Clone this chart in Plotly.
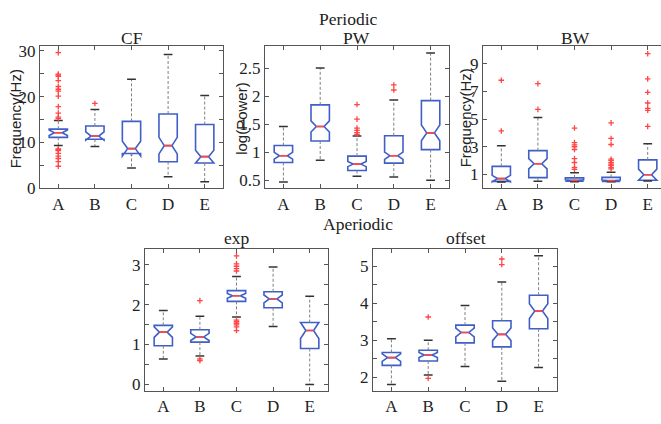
import plotly.graph_objects as go

W, H = 661, 424

cats = ["A", "B", "C", "D", "E"]
pos = [1, 2, 3, 4, 5]

# ---- Periodic: CF ----
cf_q1 = [11.1, 10.7, 7.6, 5.8, 5.5]
cf_med = [12.1, 11.4, 8.65, 9.3, 6.9]
cf_q3 = [12.9, 13.6, 14.6, 16.2, 13.9]
cf_lo = [9.35, 9.1, 4.4, 2.5, 1.4]
cf_hi = [14.8, 17.2, 23.8, 29.2, 20.25]
cf_notch = [0.6, 0.9, 1.6, 1.8, 1.4]
cf_out = [[29.6, 24.9, 24.7, 24.4, 23.5, 22.2, 21.6, 21.2, 20.1, 17.8, 16.4, 15.5, 15.2,
           8.6, 8.4, 8.2, 7.6, 7.0, 6.5, 5.8, 4.8],
          [18.5], [], [], []]

# ---- Periodic: PW ----
pw_q1 = [0.817, 1.20, 0.673, 0.805, 1.047]
pw_med = [0.938, 1.46, 0.788, 0.938, 1.345]
pw_q3 = [1.12, 1.845, 0.93, 1.295, 1.92]
pw_lo = [0.47, 0.857, 0.57, 0.56, 0.5]
pw_hi = [1.46, 2.5, 1.29, 1.93, 2.77]
pw_notch = [0.06, 0.1, 0.045, 0.065, 0.14]
pw_out = [[], [], [1.85, 1.59, 1.43, 1.39, 1.35, 1.32], [2.2, 2.11], []]

# ---- Periodic: BW ----
bw_q1 = [0.5, 0.77, 0.51, 0.49, 0.58]
bw_med = [0.70, 1.77, 0.56, 0.54, 0.98]
bw_q3 = [1.58, 2.72, 0.75, 0.79, 2.05]
bw_lo = [0.45, 0.51, 0.48, 0.47, 0.52]
bw_hi = [3.07, 5.12, 1.12, 1.15, 3.21]
bw_notch = [0.23, 0.37, 0.05, 0.05, 0.4]
bw_out = [[7.8, 4.14], [7.56, 5.70],
          [4.35, 3.3, 3.14, 3.0, 2.8, 2.14, 1.86, 1.5, 1.37],
          [4.72, 3.6, 3.16, 2.1, 2.0, 1.85, 1.75, 1.65, 1.5, 1.4],
          [9.72, 7.9, 6.93, 6.16, 5.77, 5.63, 4.47]]

# ---- Aperiodic: exp ----
ex_q1 = [0.97, 1.06, 2.08, 1.92, 0.9]
ex_med = [1.31, 1.19, 2.22, 2.14, 1.35]
ex_q3 = [1.48, 1.37, 2.35, 2.32, 1.55]
ex_lo = [0.64, 0.71, 1.69, 1.45, 0.0]
ex_hi = [1.85, 1.71, 2.70, 2.94, 2.21]
ex_notch = [0.13, 0.09, 0.06, 0.1, 0.2]
ex_out = [[], [2.1, 0.64, 0.6],
          [3.22, 3.02, 2.96, 2.9, 2.84, 1.61, 1.57, 1.53, 1.49, 1.44, 1.35], [], []]

# ---- Aperiodic: offset ----
of_q1 = [2.32, 2.44, 2.93, 2.82, 3.31]
of_med = [2.53, 2.6, 3.21, 3.16, 3.79]
of_q3 = [2.67, 2.73, 3.41, 3.53, 4.22]
of_lo = [1.80, 2.06, 2.29, 1.89, 2.26]
of_hi = [3.04, 3.0, 3.94, 4.58, 5.29]
of_notch = [0.1, 0.07, 0.12, 0.17, 0.2]
of_out = [[], [3.63, 1.97], [], [5.2, 5.05], []]

BLUE = "#3f5fc6"
RED = "#ff4545"
AX = "#555555"
SERIF = "'Liberation Serif', 'Times New Roman', serif"
SANS = "'Liberation Sans', Arial, sans-serif"

BOXW = 0.5
NOTCHW = 0.29
MED_HALF = BOXW / 2 * (1 - 2 * NOTCHW)
CAP_HALF = 0.12

panels = [
    dict(d=(cf_q1, cf_med, cf_q3, cf_lo, cf_hi, cf_notch, cf_out),
         xpx=(40, 223), ypx=(43, 190), yr=[0, 30.93], tv=[0, 10, 20, 30], minor=5,
         xr=[0.5, 5.5], mirror="ticks"),
    dict(d=(pw_q1, pw_med, pw_q3, pw_lo, pw_hi, pw_notch, pw_out),
         xpx=(265, 449), ypx=(43, 190), yr=[0.357, 2.886], tv=[0.5, 1, 1.5, 2, 2.5], minor=None,
         xr=[0.5, 5.5], mirror="ticks"),
    dict(d=(bw_q1, bw_med, bw_q3, bw_lo, bw_hi, bw_notch, bw_out),
         xpx=(483, 661), ypx=(43, 190), yr=[0.0, 10.24], tv=[1, 3, 5, 7, 9], minor=None,
         xr=[0.5, 0.5 + 178 / 36.6], mirror=False),
    dict(d=(ex_q1, ex_med, ex_q3, ex_lo, ex_hi, ex_notch, ex_out),
         xpx=(145, 328), ypx=(253, 400), yr=[-0.16, 3.39], tv=[0, 1, 2, 3], minor=0.5,
         xr=[0.5, 5.5], mirror="ticks"),
    dict(d=(of_q1, of_med, of_q3, of_lo, of_hi, of_notch, of_out),
         xpx=(373, 557), ypx=(253, 400), yr=[1.63, 5.47], tv=[2, 3, 4, 5], minor=0.5,
         xr=[0.5, 5.5], mirror="ticks"),
]

fig = go.Figure()
layout = {}

for k, p in enumerate(panels, start=1):
    q1, med, q3, lo, hi, notch, out = p["d"]
    xa = "x" if k == 1 else f"x{k}"
    ya = "y" if k == 1 else f"y{k}"

    fig.add_trace(go.Box(
        x=pos, q1=q1, median=med, q3=q3, lowerfence=q1, upperfence=q3,
        notchspan=notch, notched=True, notchwidth=NOTCHW, width=BOXW,
        whiskerwidth=0, boxpoints=False,
        line=dict(color=BLUE, width=1.6), fillcolor="rgba(0,0,0,0)",
        xaxis=xa, yaxis=ya, showlegend=False, hoverinfo="skip"))

    wx, wy = [], []
    for i, xp in enumerate(pos):
        wx += [xp, xp, None, xp, xp, None]
        wy += [q3[i], hi[i], None, q1[i], lo[i], None]
    fig.add_trace(go.Scatter(x=wx, y=wy, mode="lines", xaxis=xa, yaxis=ya,
                             line=dict(color="#808080", width=1, dash="3px,2px"),
                             showlegend=False, hoverinfo="skip"))
    cx, cy = [], []
    for i, xp in enumerate(pos):
        cx += [xp - CAP_HALF, xp + CAP_HALF, None, xp - CAP_HALF, xp + CAP_HALF, None]
        cy += [hi[i], hi[i], None, lo[i], lo[i], None]
    fig.add_trace(go.Scatter(x=cx, y=cy, mode="lines", xaxis=xa, yaxis=ya,
                             line=dict(color="#333333", width=1.5),
                             showlegend=False, hoverinfo="skip"))
    mx, my = [], []
    for i, xp in enumerate(pos):
        mx += [xp - MED_HALF, xp + MED_HALF, None]
        my += [med[i], med[i], None]
    fig.add_trace(go.Scatter(x=mx, y=my, mode="lines", xaxis=xa, yaxis=ya,
                             line=dict(color=RED, width=1.6),
                             showlegend=False, hoverinfo="skip"))
    ox, oy = [], []
    for i, xp in enumerate(pos):
        ox += [xp] * len(out[i])
        oy += out[i]
    fig.add_trace(go.Scatter(x=ox, y=oy, mode="markers", xaxis=xa, yaxis=ya,
                             marker=dict(symbol="cross-thin", size=4,
                                         line=dict(color=RED, width=1.3)),
                             showlegend=False, hoverinfo="skip"))

    x0, x1 = p["xpx"]
    y0, y1 = p["ypx"]
    xkey = "xaxis" if k == 1 else f"xaxis{k}"
    ykey = "yaxis" if k == 1 else f"yaxis{k}"
    layout[xkey] = dict(
        domain=[x0 / W, min(x1 / W, 1.0)], anchor=ya, range=p["xr"],
        tickmode="array", tickvals=pos, ticktext=cats,
        showline=True, linecolor=AX, linewidth=1, mirror="ticks",
        ticks="inside", ticklen=4, tickcolor=AX,
        showgrid=False, zeroline=False,
        tickfont=dict(family=SERIF, size=17, color="#222222"))
    ydict = dict(
        domain=[1 - y1 / H, 1 - y0 / H], anchor=xa, range=p["yr"],
        tickmode="array", tickvals=p["tv"],
        showline=True, linecolor=AX, linewidth=1, mirror=p["mirror"],
        ticks="inside", ticklen=4, tickcolor=AX,
        showgrid=False, zeroline=False,
        tickfont=dict(family=SERIF, size=17, color="#222222"))
    if p["minor"]:
        ydict["minor"] = dict(dtick=p["minor"], ticks="inside", ticklen=4,
                              tickcolor=AX, showgrid=False)
    layout[ykey] = ydict


def ann(text, xpx, ypx, size=17.5, family=SERIF, angle=0):
    return dict(text=text, x=xpx / W, y=1 - ypx / H, xref="paper", yref="paper",
                xanchor="center", yanchor="middle", showarrow=False, textangle=angle,
                font=dict(family=family, size=size, color="#222222"))


annotations = [
    ann("Periodic", 348, 15),
    ann("CF", 131.5, 34),
    ann("PW", 357, 34),
    ann("BW", 575, 34),
    ann("Aperiodic", 358, 227),
    ann("exp", 236.5, 242),
    ann("offset", 466, 242),
    ann("Frequency(Hz)", 15, 118.5, size=15, family=SANS, angle=-90),
    ann("log(Power)", 241.5, 117.5, size=15, family=SANS, angle=-90),
    ann("Frequency(Hz)", 465, 117.5, size=15, family=SANS, angle=-90),
]

fig.update_layout(
    width=W, height=H,
    margin=dict(l=0, r=0, t=0, b=0),
    paper_bgcolor="white", plot_bgcolor="white",
    annotations=annotations,
    **layout,
)

fig.write_html("out.html",
               config={"displayModeBar": False},
               post_script="document.body.style.margin='0px';document.body.style.overflow='hidden';")
